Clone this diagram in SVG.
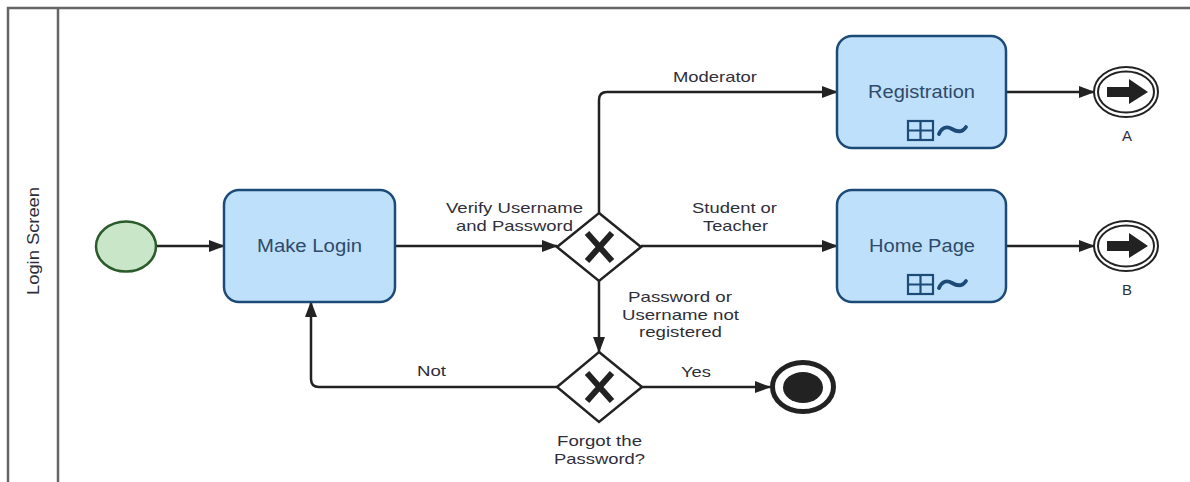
<svg xmlns="http://www.w3.org/2000/svg" width="1190" height="482" viewBox="0 0 1190 482">
  <defs>
    <marker id="arrow" viewBox="0 0 16 12" refX="15" refY="6" markerWidth="16" markerHeight="12" markerUnits="userSpaceOnUse" orient="auto">
      <path d="M0,0 L16,6 L0,12 z" fill="#222"/>
    </marker>
    <style>
      .pool { fill: none; stroke: #666; stroke-width: 2.5; }
      .task { fill: #bfe0fa; stroke: #1d4b78; stroke-width: 2.5; }
      .task-text { font-family: "Liberation Sans", Arial, sans-serif; font-size: 17.5px; fill: #2e4a6c; text-anchor: middle; }
      .label { font-family: "Liberation Sans", Arial, sans-serif; font-size: 15px; fill: #2f2f3a; text-anchor: middle; }
      .lane-text { font-family: "Liberation Sans", Arial, sans-serif; font-size: 16px; fill: #2f2f3a; text-anchor: middle; }
      .flow { fill: none; stroke: #222; stroke-width: 2.5; marker-end: url(#arrow); }
      .gateway { fill: #fff; stroke: #222; stroke-width: 2.5; }
      .xmark { stroke: #222; stroke-width: 6; stroke-linecap: butt; }
      .marker-box { fill: none; stroke: #1d4b78; stroke-width: 2.2; }
      .tilde { fill: none; stroke: #1d4b78; stroke-width: 3.8; stroke-linecap: round; }
      .link-ring { fill: #fff; stroke: #222; stroke-width: 2; }
    </style>
  </defs>

  <rect width="1190" height="482" fill="#fff"/>

  <!-- pool and lane header -->
  <g id="pool">
    <path class="pool" d="M8,490 V8 H1200"/>
    <line class="pool" x1="58" y1="8" x2="58" y2="490"/>
    <text class="lane-text" transform="translate(38.5,241) rotate(-90)" textLength="108" lengthAdjust="spacingAndGlyphs">Login Screen</text>
  </g>

  <!-- sequence flows -->
  <g id="connectors">
    <path class="flow" d="M157,246 H224"/>
    <path class="flow" d="M395,246 H557"/>
    <path class="flow" d="M599,213 V100 Q599,92 607,92 H837"/>
    <path class="flow" d="M641,246 H837"/>
    <path class="flow" d="M599,281 V352"/>
    <path class="flow" d="M557,387 H319 Q311,387 311,379 V302"/>
    <path class="flow" d="M642,387 H770"/>
    <path class="flow" d="M1006,92 H1094"/>
    <path class="flow" d="M1006,246 H1094"/>

    <text class="label" x="715" y="82" textLength="84" lengthAdjust="spacingAndGlyphs">Moderator</text>
    <text class="label" x="514.5" y="213" textLength="137" lengthAdjust="spacingAndGlyphs">Verify Username</text>
    <text class="label" x="514.5" y="231" textLength="117" lengthAdjust="spacingAndGlyphs">and Password</text>
    <text class="label" x="734.5" y="213" textLength="85" lengthAdjust="spacingAndGlyphs">Student or</text>
    <text class="label" x="735.5" y="231" textLength="65" lengthAdjust="spacingAndGlyphs">Teacher</text>
    <text class="label" x="680" y="302" textLength="104" lengthAdjust="spacingAndGlyphs">Password or</text>
    <text class="label" x="680.5" y="320" textLength="117" lengthAdjust="spacingAndGlyphs">Username not</text>
    <text class="label" x="680.5" y="337" textLength="83" lengthAdjust="spacingAndGlyphs">registered</text>
    <text class="label" x="431.5" y="376" textLength="29" lengthAdjust="spacingAndGlyphs">Not</text>
    <text class="label" x="696" y="377" textLength="30" lengthAdjust="spacingAndGlyphs">Yes</text>
  </g>

  <!-- start event -->
  <g id="start">
    <ellipse cx="126" cy="246.5" rx="30" ry="25" fill="#c9e6c9" stroke="#2b5a2b" stroke-width="2.5"/>
  </g>

  <!-- tasks -->
  <g id="make-login">
    <rect class="task" x="224" y="190" width="171" height="112" rx="15"/>
    <text class="task-text" x="309.5" y="252" textLength="105" lengthAdjust="spacingAndGlyphs">Make Login</text>
  </g>

  <g id="registration">
    <rect class="task" x="837" y="36" width="169" height="112" rx="15"/>
    <text class="task-text" x="921.5" y="98" textLength="107" lengthAdjust="spacingAndGlyphs">Registration</text>
    <rect class="marker-box" x="908" y="121" width="25" height="19"/>
    <path class="marker-box" d="M920.5,121 V140 M908,130.5 H933"/>
    <path class="tilde" d="M939,134 C942,127 947,126 952,129 C957,132 962,133 966,127"/>
  </g>

  <g id="home-page">
    <rect class="task" x="837" y="190" width="169" height="112" rx="15"/>
    <text class="task-text" x="922" y="252" textLength="106" lengthAdjust="spacingAndGlyphs">Home Page</text>
    <rect class="marker-box" x="908" y="275" width="25" height="19"/>
    <path class="marker-box" d="M920.5,275 V294 M908,284.5 H933"/>
    <path class="tilde" d="M939,288 C942,281 947,280 952,283 C957,286 962,287 966,281"/>
  </g>

  <!-- gateways -->
  <g id="verify-gateway">
    <path class="gateway" d="M599,213 L641,247 L599,281 L557,247 z"/>
    <path class="xmark" d="M587,233 L612,261 M612,233 L587,261"/>
  </g>

  <g id="forgot-gateway">
    <path class="gateway" d="M599,352 L642,387 L599,422 L557,387 z"/>
    <path class="xmark" d="M587,373 L612,401 M612,373 L587,401"/>
    <text class="label" x="599.5" y="446" textLength="85" lengthAdjust="spacingAndGlyphs">Forgot the</text>
    <text class="label" x="599.5" y="464" textLength="91" lengthAdjust="spacingAndGlyphs">Password?</text>
  </g>

  <!-- end event -->
  <g id="end">
    <ellipse cx="803" cy="387" rx="30.5" ry="24.5" fill="#fff" stroke="#222" stroke-width="5"/>
    <ellipse cx="803" cy="387.5" rx="20" ry="15.5" fill="#222"/>
  </g>

  <!-- link throw events -->
  <g id="link-a">
    <ellipse class="link-ring" cx="1126" cy="92" rx="32" ry="25"/>
    <ellipse class="link-ring" cx="1126" cy="92" rx="28" ry="20.5"/>
    <path d="M1107,87 H1129 V79 L1148,92 L1129,104 V97 H1107 z" fill="#222"/>
    <text class="label" x="1127" y="141">A</text>
  </g>

  <g id="link-b">
    <ellipse class="link-ring" cx="1126" cy="246" rx="32" ry="25"/>
    <ellipse class="link-ring" cx="1126" cy="246" rx="28" ry="20.5"/>
    <path d="M1107,241 H1129 V233 L1148,246 L1129,258 V251 H1107 z" fill="#222"/>
    <text class="label" x="1127" y="295">B</text>
  </g>
</svg>
